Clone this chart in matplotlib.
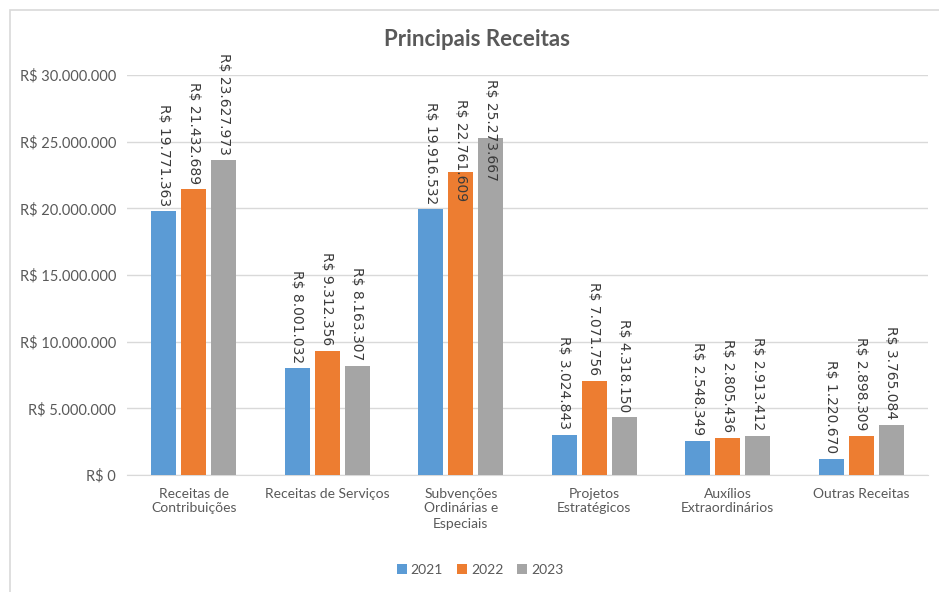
import matplotlib
matplotlib.use("Agg")
import matplotlib.pyplot as plt
import numpy as np
from matplotlib.ticker import FuncFormatter
from matplotlib.patches import Rectangle

categories = ["Receitas de\nContribuições", "Receitas de Serviços",
              "Subvenções\nOrdinárias e\nEspeciais", "Projetos\nEstratégicos",
              "Auxílios\nExtraordinários", "Outras Receitas"]
years = ["2021", "2022", "2023"]
v2021 = [19771363, 8001032, 19916532, 3024843, 2548349, 1220670]
v2022 = [21432689, 9312356, 22761609, 7071756, 2805436, 2898309]
v2023 = [23627973, 8163307, 25273667, 4318150, 2913412, 3765084]
colors = ["#5B9BD5", "#ED7D31", "#A5A5A5"]

def brl(v):
    return "R$ " + f"{int(round(v)):,}".replace(",", ".")

plt.rcParams['font.family'] = ['Lato', 'DejaVu Sans']
fig = plt.figure(figsize=(9.39, 5.92), dpi=100)
fig.patches.append(Rectangle((10/939, -0.1), 1.2, (592-10)/592 + 0.1,
                             transform=fig.transFigure, fill=False,
                             edgecolor="#D9D9D9", linewidth=1.2))
ax = fig.add_axes([127/939, 1-475/592, (928-127)/939, 400/592])

x = np.arange(len(categories))
w = 0.187
off = 0.225
series = [v2021, v2022, v2023]
# labels that Excel pushed down to stay inside the chart area (top, in data units)
label_top_override = {(2, 1): 28.2e6, (2, 2): 29.7e6}
for i, (vals, c) in enumerate(zip(series, colors)):
    xs = x + (i - 1) * off
    ax.bar(xs, vals, width=w, color=c, label=years[i], zorder=3)
    for j, (xx, v) in enumerate(zip(xs, vals)):
        if (j, i) in label_top_override:
            ax.text(xx, label_top_override[(j, i)], brl(v), rotation=270,
                    ha='center', va='top', fontsize=10, color="#3A3A3A",
                    family=['DejaVu Sans'], zorder=4, clip_on=False)
        else:
            ax.annotate(brl(v), (xx, v), xytext=(0, 4), textcoords='offset points',
                        rotation=270, ha='center', va='bottom', fontsize=10,
                        color="#3A3A3A", family=['DejaVu Sans'], zorder=4,
                        annotation_clip=False)

ax.set_ylim(0, 30e6)
ax.set_xlim(-0.5, len(categories) - 0.5)
ax.set_yticks(np.arange(0, 30e6 + 1, 5e6))
ax.yaxis.set_major_formatter(FuncFormatter(lambda v, p: brl(v)))
ax.set_xticks(x)
ax.set_xticklabels(categories, fontsize=10, color="#595959", linespacing=1.3)
ax.tick_params(axis='y', labelsize=10.5, labelcolor="#595959", length=0, pad=8)
ax.tick_params(axis='x', length=0, pad=9)
ax.grid(axis='y', color="#D9D9D9", linewidth=1, zorder=0)
for s in ['top', 'right', 'left']:
    ax.spines[s].set_visible(False)
ax.spines['bottom'].set_color("#D9D9D9")

fig.text(477/939, 1-40/592, "Principais Receitas", ha='center', va='center',
         fontsize=16, fontweight='bold', color="#595959")
fig.legend(loc='center', bbox_to_anchor=(480/939, 1-570/592), ncol=3, frameon=False,
           fontsize=10, labelcolor="#595959", handlelength=0.7, handleheight=0.7,
           handletextpad=0.3, columnspacing=1.0)

fig.savefig("out.png", dpi=100)
